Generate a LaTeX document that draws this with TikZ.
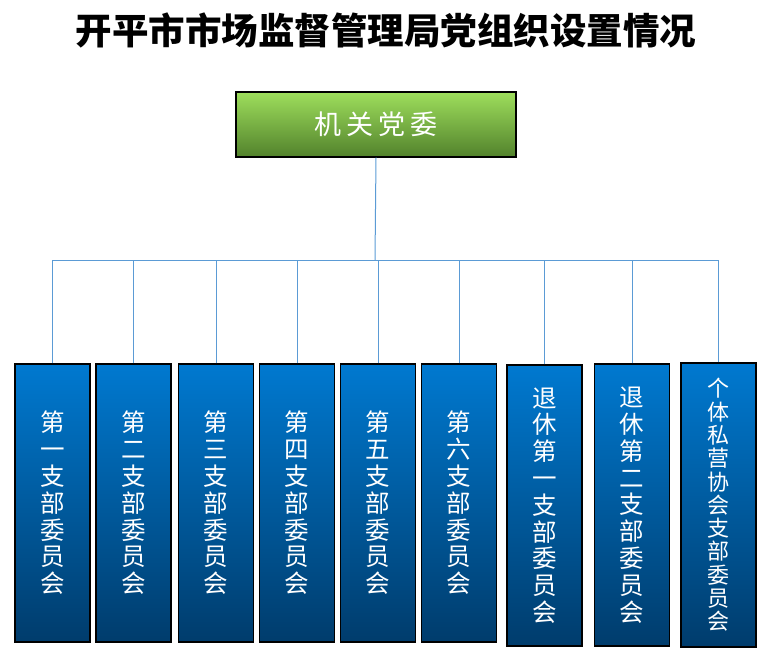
\documentclass[tikz,border=0pt]{standalone}
\usepackage{fontspec}
\newfontfamily\cjk{Noto Sans CJK SC}
\definecolor{vertclair}{RGB}{158,222,92}
\definecolor{vertfonce}{RGB}{82,130,44}
\definecolor{bleuclair}{RGB}{0,121,208}
\definecolor{bleufonce}{RGB}{0,60,108}
\definecolor{lienbleu}{RGB}{91,155,213}

\begin{document}
\begin{tikzpicture}[x=1pt,y=-1pt,
    comite/.style={draw=black, line width=1.2pt, top color=vertclair, bottom color=vertfonce,
        minimum width=280, minimum height=65, text=white, font=\cjk\fontsize{27}{30}\selectfont},
    branche/.style={draw=black, line width=1.2pt, top color=bleuclair, bottom color=bleufonce,
        minimum width=75, text=white, align=center, font=\cjk\fontsize{24.5}{26.8}\selectfont},
    lien/.style={draw=lienbleu, line width=1pt}]
    \useasboundingbox (0,0) rectangle (774,661);

    % Titre
    \node (titre) at (386,30) {\cjk\bfseries\fontsize{36.5}{40}\selectfont 开平市市场监督管理局党组织设置情况};

    % Le comité en haut
    \node[comite] (jg) at (376,124.5) {机\hspace{5pt}关\hspace{5pt}党\hspace{5pt}委};
    \coordinate (bus) at (375,260);

    % Les neuf branches
    \node[branche, minimum height=278] (b1) at (52.5,503) {第\\一\\支\\部\\委\\员\\会};
    \node[branche, minimum height=278] (b2) at (133.5,503) {第\\二\\支\\部\\委\\员\\会};
    \node[branche, minimum height=278] (b3) at (216,503) {第\\三\\支\\部\\委\\员\\会};
    \node[branche, minimum height=278] (b4) at (297,503) {第\\四\\支\\部\\委\\员\\会};
    \node[branche, minimum height=278] (b5) at (378,503) {第\\五\\支\\部\\委\\员\\会};
    \node[branche, minimum height=278] (b6) at (459,503) {第\\六\\支\\部\\委\\员\\会};
    \node[branche, minimum height=281] (b7) at (544.5,505.5) {退\\休\\第\\一\\支\\部\\委\\员\\会};
    \node[branche, minimum height=282] (b8) at (632,505) {退\\休\\第\\二\\支\\部\\委\\员\\会};
    \node[branche, minimum height=284, font=\cjk\fontsize{22}{23.3}\selectfont] (b9) at (718.5,505)
        {个\\体\\私\\营\\协\\会\\支\\部\\委\\员\\会};

    % Les liaisons
    \draw[lien] (jg.south) -- (bus);
    \draw[lien] (b1.north |- bus) -- (b9.north |- bus);
    \draw[lien] (b1.north) -- (b1.north |- bus);
    \draw[lien] (b2.north) -- (b2.north |- bus);
    \draw[lien] (b3.north) -- (b3.north |- bus);
    \draw[lien] (b4.north) -- (b4.north |- bus);
    \draw[lien] (b5.north) -- (b5.north |- bus);
    \draw[lien] (b6.north) -- (b6.north |- bus);
    \draw[lien] (b7.north) -- (b7.north |- bus);
    \draw[lien] (b8.north) -- (b8.north |- bus);
    \draw[lien] (b9.north) -- (b9.north |- bus);
\end{tikzpicture}
\end{document}
